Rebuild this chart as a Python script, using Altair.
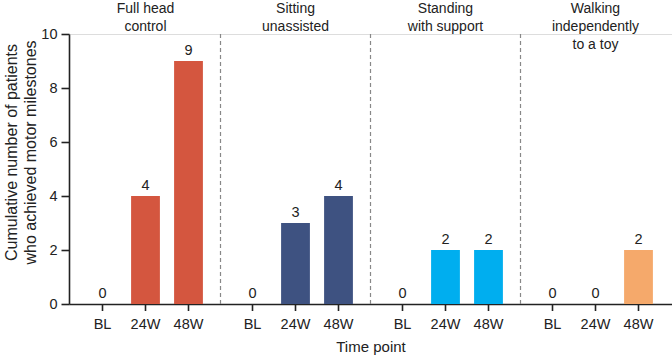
import altair as alt
import pandas as pd

groups = ["Full head control", "Sitting unassisted", "Standing with support", "Walking independently to a toy"]
group_titles = ["Full head\ncontrol", "Sitting\nunassisted", "Standing\nwith support", "Walking\nindependently\nto a toy"]
times = ["BL", "24W", "48W"]
values = {
    "Full head control": [0, 4, 9],
    "Sitting unassisted": [0, 3, 4],
    "Standing with support": [0, 2, 2],
    "Walking independently to a toy": [0, 0, 2],
}
colors = ["#D4563F", "#3E5281", "#00AEEF", "#F5A96B"]
y_ticks = [0, 2, 4, 6, 8, 10]

rows = []
for g in groups:
    for t, v in zip(times, values[g]):
        rows.append({"group": g, "time": t, "value": v})
df = pd.DataFrame(rows)
titles_df = pd.DataFrame({"group": groups, "title": group_titles})
sep_df = pd.DataFrame({"group": groups[:3]})

W, H = 603, 270
FONT = "Liberation Sans"

xscale = alt.Scale(paddingInner=0.14, paddingOuter=0.08)
xaxis = alt.Axis(labels=False, ticks=False, title="Time point", titleFontSize=15,
                 titleFontWeight="normal", titleColor="#222", titlePadding=35,
                 domainColor="#222", domainWidth=1.6)
X = alt.X("group:N", sort=groups, scale=xscale, axis=xaxis)
XO = alt.XOffset("time:N", sort=times, scale=alt.Scale(paddingInner=0.33, paddingOuter=0.165))
Y = alt.Y("value:Q", scale=alt.Scale(domain=[0, 10]),
          axis=alt.Axis(values=y_ticks, grid=False, tickSize=8, tickWidth=1.6,
                        domainWidth=1.6, domainColor="#222", tickColor="#222",
                        labelFontSize=14.5, labelColor="#222", labelPadding=4,
                        title=["Cumulative number of patients", "who achieved motor milestones"],
                        titleFontSize=16, titleLineHeight=19, titleFontWeight="normal",
                        titleColor="#222", titlePadding=2, titleY=118))
C = alt.Color("group:N", sort=groups, scale=alt.Scale(domain=groups, range=colors), legend=None)

base = alt.Chart(df)
bars = base.mark_bar().encode(x=X, xOffset=XO, y=Y, color=C)
labels = base.mark_text(baseline="bottom", dy=-3, fontSize=14.5, color="#222", font=FONT).encode(
    x=X, xOffset=XO, y="value:Q", text="value:Q")
ticks = base.mark_rule(color="#222", strokeWidth=1.6).encode(
    x=X, xOffset=XO, y=alt.value(H), y2=alt.value(H + 7))
tlabels = base.mark_text(baseline="top", fontSize=14.5, color="#222", font=FONT).encode(
    x=X, xOffset=XO, y=alt.value(H + 14), text="time:N")
seps = alt.Chart(sep_df).mark_rule(color="#888", strokeDash=[4, 3], strokeWidth=1.2, xOffset=10.5).encode(
    x=alt.X("group:N", sort=groups, scale=xscale, axis=xaxis, bandPosition=1),
    y=alt.value(0), y2=alt.value(H))
gtitles = alt.Chart(titles_df).mark_text(baseline="top", fontSize=14, color="#222",
                                          lineBreak="\n", lineHeight=18, font=FONT).encode(
    x=X, y=alt.value(-32), text="title:N")

chart = alt.layer(seps, bars, labels, ticks, tlabels, gtitles).properties(
    width=W, height=H,
    autosize=alt.AutoSizeParams(type="none"),
    padding={"left": 69, "top": 34, "right": 0, "bottom": 54},
).configure_view(stroke=None).configure(font=FONT)

chart.save("out.html", embed_options={"renderer": "svg", "actions": False})
